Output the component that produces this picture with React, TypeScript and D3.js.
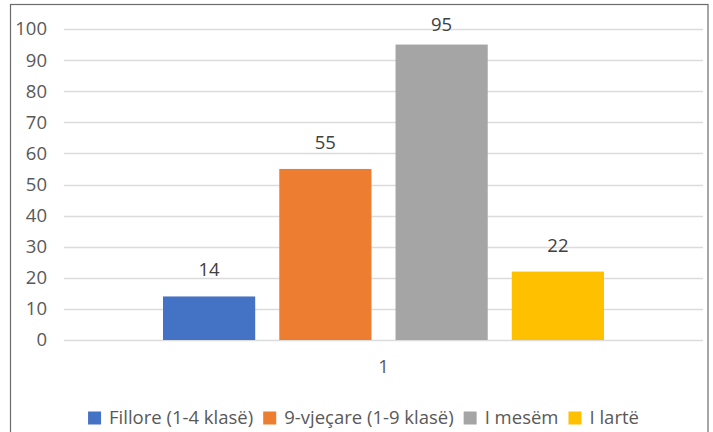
import React, { useEffect, useRef } from "react";
import * as d3 from "d3";

const categories = ["1"];
const seriesNames = ["Fillore (1-4 klasë)", "9-vjeçare (1-9 klasë)", "I mesëm", "I lartë"];
const seriesValues = [14, 55, 95, 22];
const seriesColors = ["#4472C4", "#ED7D31", "#A5A5A5", "#FFC000"];
const yTicks = [0, 10, 20, 30, 40, 50, 60, 70, 80, 90, 100];

const W = 713;
const H = 432;
const FONT = "'Open Sans', 'Liberation Sans', sans-serif";

export default function App() {
  const ref = useRef<SVGSVGElement | null>(null);

  useEffect(() => {
    const svg = d3.select(ref.current);
    svg.selectAll("*").remove();

    const plot = { left: 64, right: 703, top: 29, bottom: 340 };

    // chart border
    svg.append("rect")
      .attr("x", 10.5).attr("y", 4.5)
      .attr("width", 697.5).attr("height", 440)
      .attr("fill", "#fff").attr("stroke", "#6b6b6b").attr("stroke-width", 1.2);

    const y = d3.scaleLinear().domain([0, 100]).range([plot.bottom, plot.top]);
    const x0 = d3.scaleBand<string>().domain(categories).range([plot.left, plot.right]).paddingInner(0).paddingOuter(0.2245);
    const x1 = d3.scaleBand<string>().domain(seriesNames).range([0, x0.bandwidth()]).paddingInner(0.207).paddingOuter(0);

    // gridlines
    svg.append("g").selectAll("line").data(yTicks).join("line")
      .attr("x1", plot.left).attr("x2", plot.right)
      .attr("y1", (d) => Math.round(y(d)) + 0.5).attr("y2", (d) => Math.round(y(d)) + 0.5)
      .attr("stroke", "#dcdcdc").attr("stroke-width", 1.3);

    // y tick labels
    svg.append("g").selectAll("text").data(yTicks).join("text")
      .attr("x", 47).attr("y", (d) => y(d))
      .attr("dy", "0.35em")
      .attr("text-anchor", "end")
      .attr("font-family", FONT).attr("font-size", 18.5)
      .attr("fill", "#595959")
      .text((d) => String(d));

    // bars
    const g = svg.append("g");
    categories.forEach((c) => {
      const gx = x0(c) as number;
      g.selectAll("rect.bar").data(seriesValues).join("rect")
        .attr("class", "bar")
        .attr("x", (_d, i) => gx + (x1(seriesNames[i]) as number))
        .attr("y", (d) => y(d))
        .attr("width", x1.bandwidth())
        .attr("height", (d) => y(0) - y(d))
        .attr("fill", (_d, i) => seriesColors[i]);

      g.selectAll("text.lbl").data(seriesValues).join("text")
        .attr("class", "lbl")
        .attr("x", (_d, i) => gx + (x1(seriesNames[i]) as number) + x1.bandwidth() / 2)
        .attr("y", (d) => Math.max(y(d) - 20, 31))
        .attr("text-anchor", "middle")
        .attr("font-family", FONT).attr("font-size", 18.5)
        .attr("fill", "#404040")
        .text((d) => String(d));

      // category label
      svg.append("text")
        .attr("x", gx + x0.bandwidth() / 2)
        .attr("y", 373)
        .attr("text-anchor", "middle")
        .attr("font-family", FONT).attr("font-size", 18.5)
        .attr("fill", "#595959")
        .text(c);
    });

    // legend
    const lg = svg.append("g");
    const sq = 13;
    const gapText = 8;
    const gapItem = 10;
    let cx = 0;
    seriesNames.forEach((name, i) => {
      const item = lg.append("g");
      item.append("rect").attr("x", 0).attr("y", -sq / 2).attr("width", sq).attr("height", sq).attr("fill", seriesColors[i]);
      const t = item.append("text")
        .attr("x", sq + gapText).attr("y", 0).attr("dy", "0.35em")
        .attr("font-family", FONT).attr("font-size", 18.5)
        .attr("fill", "#595959")
        .text(name);
      const tw = (t.node() as SVGTextElement).getComputedTextLength();
      item.attr("transform", `translate(${cx},0)`);
      cx += sq + gapText + tw + gapItem;
    });
    const total = cx - gapItem;
    lg.attr("transform", `translate(${363.5 - total / 2},${418})`);
  }, []);

  return (
    <div style={{ position: "fixed", left: 0, top: 0, width: W, height: H, background: "#fff" }}>
      <svg ref={ref} width={W} height={H} style={{ display: "block" }} />
    </div>
  );
}
